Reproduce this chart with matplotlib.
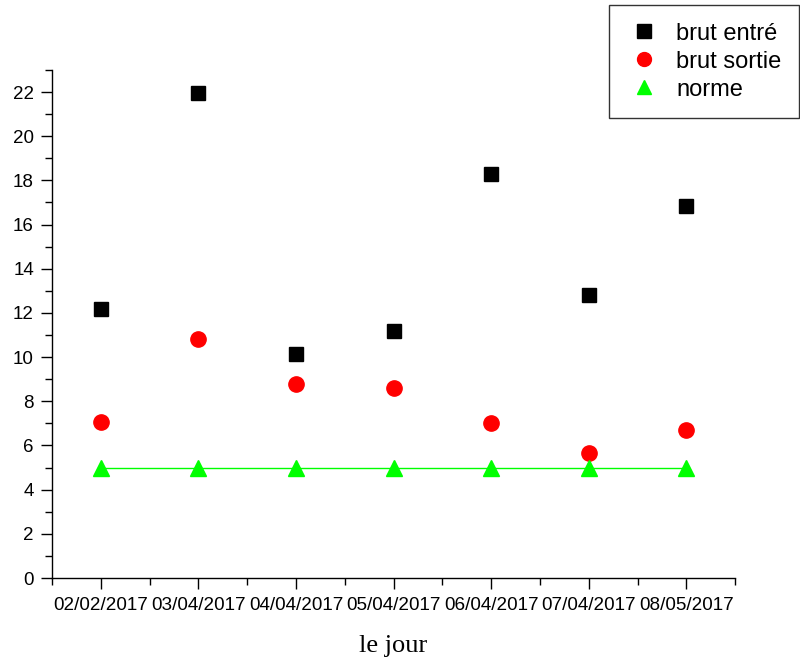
import numpy as np
import matplotlib
matplotlib.use("Agg")
import matplotlib.pyplot as plt
from matplotlib.ticker import MultipleLocator, FixedLocator

jours = ["02/02/2017", "03/04/2017", "04/04/2017", "05/04/2017",
         "06/04/2017", "07/04/2017", "08/05/2017"]
brut_entre = [12.2, 21.95, 10.15, 11.2, 18.3, 12.8, 16.85]
brut_sortie = [7.08, 10.8, 8.8, 8.58, 7.03, 5.68, 6.68]
norme = [5, 5, 5, 5, 5, 5, 5]

x = np.arange(1, len(jours) + 1)

plt.rcParams['font.family'] = ['Liberation Sans', 'DejaVu Sans']
fig = plt.figure(figsize=(8, 6.6), dpi=100)
ax = fig.add_axes([0.065, 0.1242, 0.854, 0.7698])

ax.plot(x, brut_entre, 's', color='black', markersize=10, label='brut entré')
ax.plot(x, brut_sortie, 'o', color='red', markersize=11, label='brut sortie')
ax.plot(x, norme, '-^', color='#00ff00', lw=1, markersize=12, label='norme')

ax.set_xlim(0.5, 7.5)
ax.set_ylim(0, 23)
ax.xaxis.set_major_locator(FixedLocator(x))
ax.xaxis.set_minor_locator(MultipleLocator(0.5))
ax.set_xticklabels(jours, fontsize=13.6)
ax.yaxis.set_major_locator(MultipleLocator(2))
ax.yaxis.set_minor_locator(MultipleLocator(1))
ax.tick_params(axis='y', labelsize=13.5, pad=5)
ax.tick_params(axis='x', pad=6)
ax.tick_params(which='major', length=8, width=1, direction='out', color='black')
ax.tick_params(which='minor', length=5, width=1, direction='out', color='black')
for s in ['top', 'right']:
    ax.spines[s].set_visible(False)
for s in ['left', 'bottom']:
    ax.spines[s].set_linewidth(1)

ax.set_xlabel("le jour", fontsize=19, family='Liberation Serif', labelpad=15)

leg = ax.legend(loc='upper right', bbox_to_anchor=(0.9988, 0.9924),
                bbox_transform=fig.transFigure, fontsize=17,
                frameon=True, fancybox=False, edgecolor='black',
                handlelength=1.5, borderpad=0.75, labelspacing=0.25,
                handletextpad=0.6, borderaxespad=0)
leg.get_frame().set_linewidth(1)
for h in leg.legend_handles:
    h.set_linestyle('none')
    h.set_markersize(10)

fig.savefig("out.png", dpi=100)
